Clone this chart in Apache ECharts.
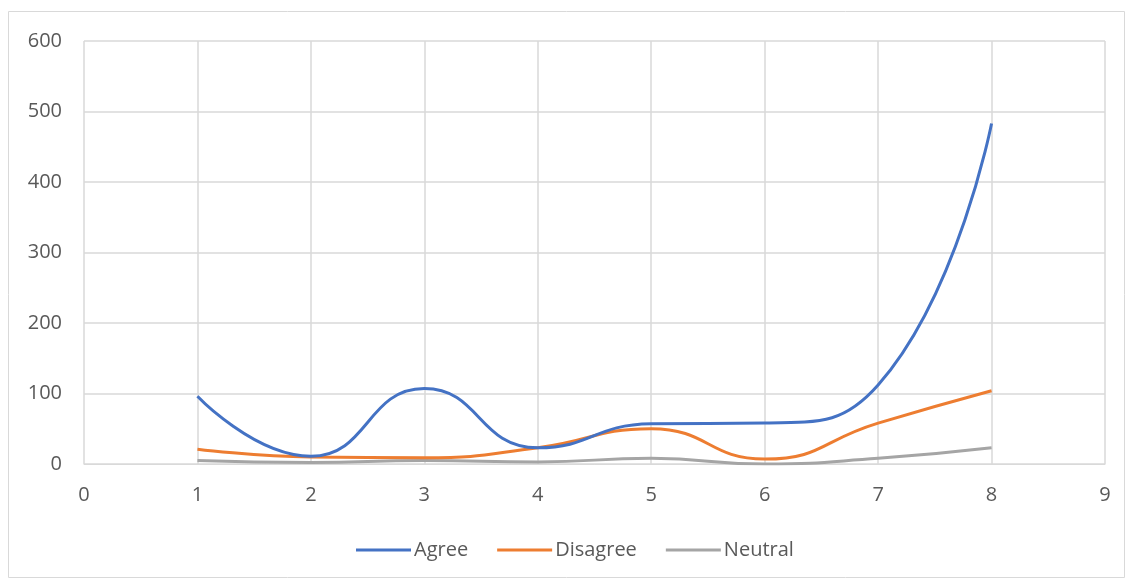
<!DOCTYPE html>
<html><head><meta charset="utf-8">
<script src="https://cdn.jsdelivr.net/npm/echarts@6/dist/echarts.min.js"></script>
<style>html,body{margin:0;padding:0;background:#fff}#c{width:1128px;height:581px}</style>
</head><body><div id="c"></div>
<script>
const xValues = [1, 2, 3, 4, 5, 6, 7, 8];
const agree = [96, 11, 107, 23, 57, 58, 112, 483];
const disagree = [21, 10, 9, 23, 50, 7, 58, 104];
const neutral = [5, 2, 5, 3, 8, 0, 8, 23];
const seriesNames = ['Agree', 'Disagree', 'Neutral'];
const colors = ['#4472C4', '#ED7D31', '#A5A5A5'];

const pair = arr => xValues.map((x, i) => [x, arr[i]]);
const chart = echarts.init(document.getElementById('c'));
const font = '"Open Sans", "Noto Sans", sans-serif';
chart.setOption({
  animation: false,
  color: colors,
  graphic: [{type: 'rect', shape: {x: 8.5, y: 11.5, width: 1116, height: 566}, style: {fill: 'none', stroke: '#d9d9d9', lineWidth: 1}}],
  grid: {left: 84, right: 23, top: 41, bottom: 117},
  legend: {
    bottom: 16, left: 351, itemWidth: 55, itemHeight: 3, itemGap: 29,
    icon: 'rect',
    textStyle: {color: '#595959', fontSize: 20, fontFamily: font, padding: [0, 0, 0, -2]},
    data: seriesNames
  },
  xAxis: {
    type: 'value', min: 0, max: 9, interval: 1,
    axisLine: {show: true, lineStyle: {color: '#d9d9d9'}},
    axisTick: {show: false},
    splitLine: {show: true, lineStyle: {color: '#d9d9d9', width: 1.5}},
    axisLabel: {color: '#595959', fontSize: 20, fontFamily: font, margin: 21}
  },
  yAxis: {
    type: 'value', min: 0, max: 600, interval: 100,
    axisLine: {show: false}, axisTick: {show: false},
    splitLine: {show: true, lineStyle: {color: '#d9d9d9', width: 1.5}},
    axisLabel: {color: '#595959', fontSize: 20, fontFamily: font, margin: 22}
  },
  series: [
    {name: seriesNames[0], type: 'line', data: pair(agree), smooth: 0.5, symbol: 'none', lineStyle: {width: 3}, z: 4},
    {name: seriesNames[1], type: 'line', data: pair(disagree), smooth: 0.5, symbol: 'none', lineStyle: {width: 3}, z: 3},
    {name: seriesNames[2], type: 'line', data: pair(neutral), smooth: 0.5, symbol: 'none', lineStyle: {width: 3}, z: 2}
  ]
});
</script></body></html>
